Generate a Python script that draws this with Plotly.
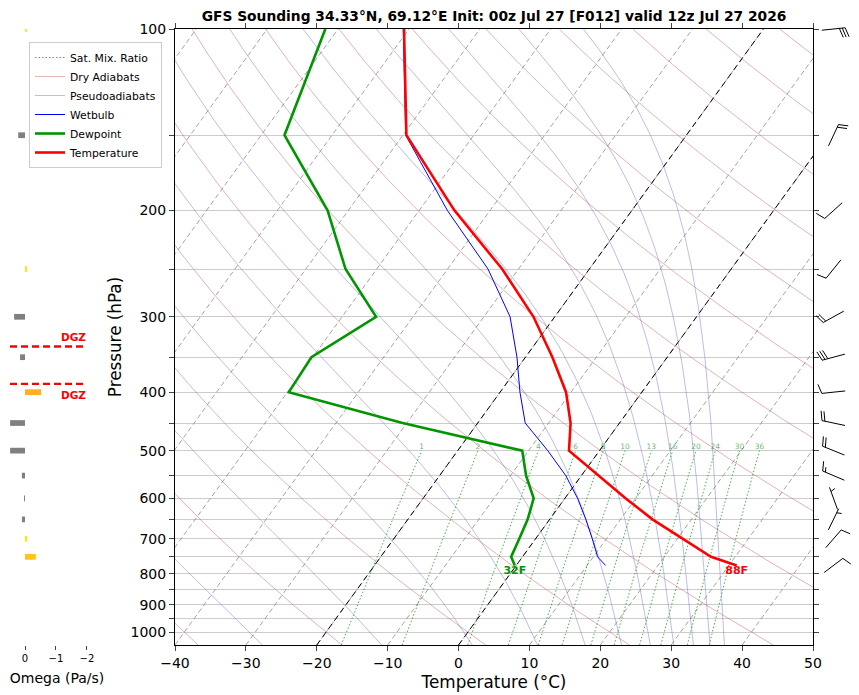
import numpy as np
import plotly.graph_objects as go

# sounding levels (hPa); the last level is the surface
pressure = [100, 150, 200, 250, 300, 350, 400, 450, 500, 550, 600, 650, 700, 750, 775]
temperature = [-70.7, -59.5, -45.0, -32.3, -23.0, -16.2, -10.7, -6.9, -4.3, 2.5, 8.6, 14.5, 20.7, 26.6, 31.1]
dewpoint = [-81.8, -76.7, -62.9, -54.4, -45.2, -50.2, -49.8, -30.6, -10.9, -7.8, -4.4, -3.1, -2.3, -1.6, -0.2]
wetbulb = [-70.8, -59.6, -46.0, -34.3, -26.3, -21.2, -17.2, -13.3, -7.3, -2.2, 1.8, 5.1, 8.0, 10.6, 12.6]

# vertical velocity (Pa/s)
omega_p = [100, 150, 200, 250, 300, 350, 400, 450, 500, 550, 600, 650, 700, 750]
omega = [-0.05, 0.22, 0.0, -0.05, 0.35, 0.16, -0.52, 0.48, 0.48, 0.10, 0.03, 0.10, -0.07, -0.35]

# winds (direction deg, speed kt)
wind_p = [100, 150, 200, 250, 300, 350, 400, 450, 500, 550, 600, 650, 700, 775]
wind_dir = [84, 25, 228, 219, 241, 255, 264, 282, 292, 293, 340, 26, 41, 53]
wind_spd = [30, 20, 10, 10, 20, 30, 10, 20, 20, 15, 5, 5, 10, 10]

mix_ratios = [1, 2, 4, 6, 8, 10, 13, 16, 20, 24, 30, 36]  # g/kg
dgz_temps = [-12, -18]

# the page body keeps an 8px margin, so the figure is laid out in window pixels minus that
OFF = 8
W, H = 859 - OFF, 695 - OFF
P_BOT, P_TOP = 1050.0, 100.0
SKEW = 61.7  # degC of x shift per decade of pressure


def skew_x(t, p):
    return np.asarray(t, float) + SKEW * np.log10(P_BOT / np.asarray(p, float))


def px(x):
    return (x - OFF) / W


def py(y):
    return 1 - (y - OFF) / H


def dom_x(left, right):
    return [px(left), px(right)]


def dom_y(top, bottom):
    return [py(bottom), py(top)]


def sat_vap(t_c):
    return 6.112 * np.exp(17.67 * t_c / (t_c + 243.5))


def theta_e_sat(t_c, p):
    tk = t_c + 273.15
    es = sat_vap(t_c)
    r = 622.0 * es / (p - es)
    th = tk * (1000.0 / (p - es)) ** 0.2854
    return th * np.exp((3.376 / tk - 0.00254) * r * (1 + 0.00081 * r)), es


fig = go.Figure()


def add_lines(curves, name, line, legend):
    xs, ys = [], []
    for x, y in curves:
        xs += list(x) + [None]
        ys += list(y) + [None]
    fig.add_trace(go.Scatter(x=xs, y=ys, mode='lines', name=name, line=line,
                             showlegend=legend, hoverinfo='skip'))


p_grid = np.geomspace(P_BOT, P_TOP, 140)
p_ends = np.array([P_BOT, P_TOP])

# isotherms
iso = [(skew_x([t, t], p_ends), p_ends) for t in range(-120, 51, 10)]
add_lines(iso, 'isotherms', dict(color='rgba(120,120,120,0.75)', width=0.9, dash='5px,3px'), False)
add_lines([(skew_x([t, t], p_ends), p_ends) for t in (0, -20)], 'key isotherms',
          dict(color='black', width=1, dash='6px,4px'), False)

# saturation mixing ratio lines
p_mix = np.geomspace(P_BOT, 500, 40)
mix_curves = []
for w in mix_ratios:
    e = w * p_mix / (622.0 + w)
    le = np.log(e / 6.112)
    td = 243.5 * le / (17.67 - le)
    mix_curves.append((skew_x(td, p_mix), p_mix))
add_lines(mix_curves, 'Sat. Mix. Ratio', dict(color='rgba(0,145,0,0.8)', width=0.9, dash='1.5px,2px'), True)

# dry adiabats
dry_curves = []
for t0 in np.arange(-60, 281, 20):
    t = (t0 + 273.15) * (p_grid / 1000.0) ** 0.2857 - 273.15
    dry_curves.append((skew_x(t, p_grid), p_grid))
add_lines(dry_curves, 'Dry Adiabats', dict(color='rgba(195,80,80,0.55)', width=0.8), True)

# pseudoadiabats (constant theta-e)
t_tab = np.arange(-150, 60, 0.2)
moist_curves = []
for the_target in 273.15 + np.arange(-50, 171, 20):
    ts = []
    for p in p_grid:
        the, es = theta_e_sat(t_tab, p)
        ok = es < 0.3 * p
        ts.append(np.interp(the_target, the[ok], t_tab[ok], left=np.nan, right=np.nan))
    ts = np.array(ts)
    good = ~np.isnan(ts)
    moist_curves.append((skew_x(ts[good], p_grid[good]), p_grid[good]))
add_lines(moist_curves, 'Pseudoadiabats', dict(color='rgba(90,90,210,0.5)', width=0.8), True)

# sounding profiles
fig.add_trace(go.Scatter(x=skew_x(wetbulb, pressure), y=pressure, mode='lines', name='Wetbulb',
                         line=dict(color='blue', width=1)))
fig.add_trace(go.Scatter(x=skew_x(dewpoint, pressure), y=pressure, mode='lines', name='Dewpoint',
                         line=dict(color='rgb(0,150,0)', width=2.6)))
fig.add_trace(go.Scatter(x=skew_x(temperature, pressure), y=pressure, mode='lines', name='Temperature',
                         line=dict(color='red', width=2.6)))

# mixing ratio labels at 500 hPa
lab_x = []
for w in mix_ratios:
    e = w * 500.0 / (622.0 + w)
    le = np.log(e / 6.112)
    lab_x.append(float(skew_x(243.5 * le / (17.67 - le), 500.0)))
fig.add_trace(go.Scatter(x=lab_x, y=[500] * len(mix_ratios), mode='text', text=[str(w) for w in mix_ratios],
                         textposition='top center', textfont=dict(size=7.5, color='rgba(0,130,0,0.6)'),
                         showlegend=False, hoverinfo='skip'))

# surface T / Td labels in F
t_sfc, td_sfc, p_sfc = temperature[-1], dewpoint[-1], pressure[-1]
fig.add_trace(go.Scatter(x=[float(skew_x(t_sfc, p_sfc))], y=[p_sfc], mode='text',
                         text=[f'<b>{round(t_sfc * 9 / 5 + 32)}F</b>'], textposition='bottom center',
                         textfont=dict(size=11, color='red'), showlegend=False, hoverinfo='skip'))
fig.add_trace(go.Scatter(x=[float(skew_x(td_sfc, p_sfc))], y=[p_sfc], mode='text',
                         text=[f'<b>{round(td_sfc * 9 / 5 + 32)}F</b>'], textposition='bottom center',
                         textfont=dict(size=11, color='rgb(0,150,0)'), showlegend=False, hoverinfo='skip'))


# omega panel
def omega_color(w):
    if w >= 0:
        return '#808080'
    f = min(-w / 0.6, 1.0)
    return f'rgb(255,{int(240 - 75 * f)},{int(40 * f)})'


fig.add_trace(go.Bar(x=omega, y=np.log10(omega_p), orientation='h', width=0.0095,
                     marker=dict(color=[omega_color(w) for w in omega], line=dict(width=0)),
                     xaxis='x2', yaxis='y2', showlegend=False, hoverinfo='skip'))

# dendritic growth zone from the temperature profile
logp = np.log10(pressure)
dgz_p = []
for td in dgz_temps:
    for i in range(len(temperature) - 1):
        a, b = temperature[i], temperature[i + 1]
        if (a - td) * (b - td) <= 0 and a != b:
            dgz_p.append(10 ** (logp[i] + (td - a) / (b - a) * (logp[i + 1] - logp[i])))
            break
dgz_p = sorted(dgz_p)
xs, ys = [], []
for p in dgz_p:
    xs += [0.484, -1.97, None]
    ys += [np.log10(p), np.log10(p), None]
fig.add_trace(go.Scatter(x=xs, y=ys, mode='lines', line=dict(color='red', width=2.4, dash='7px,4px'),
                         xaxis='x2', yaxis='y2', showlegend=False, hoverinfo='skip'))
for p, anchor, shift in zip(dgz_p, ['bottom', 'top'], [2, -3]):
    fig.add_annotation(x=-1.58, y=np.log10(p), xref='x2', yref='y2', text='<b>DGZ</b>', showarrow=False,
                       yanchor=anchor, yshift=shift, font=dict(size=10.5, color='red'))

# wind barbs (matplotlib geometry, pivot at the staff middle), drawn in pixel units
BARB_X = 833.5
L = 23.5
ppd = (645 - 29) / np.log10(P_BOT / P_TOP)
bx, by = [], []
for p, d, s in zip(wind_p, wind_dir, wind_spd):
    u = -s * np.sin(np.radians(d))
    v = -s * np.cos(np.radians(d))
    ang = np.arctan2(v, u) + np.pi / 2
    spacing, height, width = 0.125 * L, 0.4 * L, 0.25 * L
    end = -L / 2
    segs = [[(0, end), (0, end + L)]]
    offset = L
    for i in range(int(s // 10)):
        segs.append([(0, end + offset), (height, end + offset + width / 2)])
        offset -= spacing
    if s % 10 >= 5:
        if offset == L:
            offset -= 1.5 * spacing
        segs.append([(0, end + offset), (height / 2, end + offset + width / 4)])
    for seg in segs:
        for x, y in seg:
            xr = x * np.cos(ang) - y * np.sin(ang)
            yr = x * np.sin(ang) + y * np.cos(ang)
            bx.append(BARB_X + xr)
            by.append(np.log10(p) - yr / ppd)
        bx.append(None)
        by.append(None)
fig.add_trace(go.Scatter(x=bx, y=by, mode='lines', line=dict(color='black', width=1),
                         xaxis='x3', yaxis='y3', showlegend=False, hoverinfo='skip'))

ytick = list(range(100, 1001, 50))
fig.update_layout(
    width=W, height=H, margin=dict(l=0, r=0, t=0, b=0, autoexpand=False),
    paper_bgcolor='white', plot_bgcolor='white',
    font=dict(family='DejaVu Sans', color='black'),
    title=dict(text='<b>GFS Sounding 34.33°N, 69.12°E Init: 00z Jul 27 [F012] valid 12z Jul 27 2026</b>',
               x=px(494), xanchor='center', y=py(16), yanchor='middle', font=dict(size=13.8)),
    legend=dict(x=px(29), y=py(42), xanchor='left', yanchor='top', bgcolor='white',
                bordercolor='#cccccc', borderwidth=1, font=dict(size=10.8), tracegroupgap=0,
                itemwidth=30),
    xaxis=dict(domain=dom_x(175, 813), range=[-40, 50], dtick=10, tick0=0, ticks='outside', ticklen=5,
               showline=True, linecolor='black', mirror='ticks', showgrid=False, zeroline=False,
               tickfont=dict(size=14), anchor='y', automargin=False,
               title=dict(text='Temperature (°C)', font=dict(size=16.8), standoff=6)),
    yaxis=dict(domain=dom_y(29, 645), type='log', range=[np.log10(P_BOT), np.log10(P_TOP)],
               tickvals=ytick, ticktext=[str(p) if p % 100 == 0 else '' for p in ytick],
               ticks='outside', ticklen=5, showline=True, linecolor='black', mirror='ticks',
               showgrid=True, gridcolor='#cccccc', gridwidth=1, zeroline=False,
               tickfont=dict(size=14), anchor='x', automargin=False,
               title=dict(text='Pressure (hPa)', font=dict(size=16.8), standoff=4)),
    xaxis2=dict(domain=dom_x(10, 104), range=[0.484, -2.55], anchor='y2', tickvals=[0, -1, -2],
                ticks='outside', ticklen=4, showline=False, showgrid=False, zeroline=False,
                tickfont=dict(size=10), automargin=False,
                title=dict(text='Omega (Pa/s)', font=dict(size=14), standoff=10)),
    yaxis2=dict(domain=dom_y(29, 645), range=[np.log10(P_BOT), np.log10(P_TOP)], anchor='x2',
                visible=False, automargin=False),
    xaxis3=dict(domain=dom_x(813, 859), range=[813, 859], anchor='y3', visible=False, automargin=False),
    yaxis3=dict(domain=dom_y(19, 655), range=[np.log10(P_BOT) + 10 / ppd, np.log10(P_TOP) - 10 / ppd],
                anchor='x3', visible=False, automargin=False),
)

fig.write_html("out.html")
